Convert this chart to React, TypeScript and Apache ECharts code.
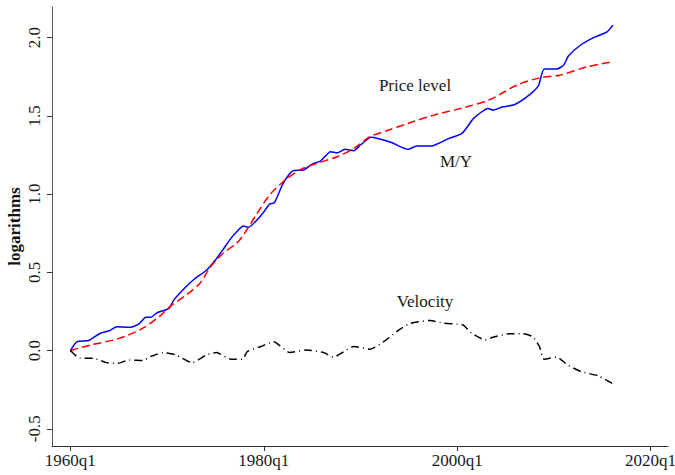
import React, { useEffect, useRef } from "react";
import * as echarts from "echarts";

// Time points (decimal years) and values
const myTime = [1960, 1960.7, 1961.9, 1963.1, 1964.1, 1964.8, 1966.2, 1967.1, 1967.8, 1968.3, 1969, 1970.2, 1970.7, 1971.9, 1972.8, 1974.1, 1975, 1975.8, 1976.6, 1977.2, 1977.9, 1978.4, 1979.9, 1980.6, 1981.1, 1982, 1983, 1984.1, 1985, 1985.9, 1986.9, 1987.6, 1988.4, 1989.3, 1990, 1991.1, 1991.8, 1993.2, 1994.9, 1995.8, 1997.3, 1999.1, 2000.5, 2001.7, 2003.2, 2003.7, 2004.7, 2005.9, 2007.5, 2008.4, 2009, 2010.3, 2011, 2011.5, 2012.7, 2014.1, 2015.5, 2016.1];
const myValues = [0, 0.057, 0.064, 0.111, 0.128, 0.153, 0.149, 0.17, 0.213, 0.213, 0.243, 0.27, 0.324, 0.405, 0.456, 0.515, 0.579, 0.647, 0.717, 0.76, 0.796, 0.788, 0.877, 0.937, 0.945, 1.069, 1.149, 1.154, 1.192, 1.213, 1.271, 1.264, 1.286, 1.277, 1.314, 1.363, 1.356, 1.33, 1.286, 1.307, 1.307, 1.355, 1.388, 1.484, 1.548, 1.537, 1.558, 1.571, 1.636, 1.693, 1.8, 1.8, 1.824, 1.883, 1.95, 2.0, 2.037, 2.08];

const priceTime = [1960, 1962.1, 1964.5, 1965.8, 1967.5, 1969.2, 1970.3, 1972, 1973.4, 1974.5, 1975.8, 1977.2, 1977.9, 1979.2, 1980.6, 1982, 1983.7, 1985.5, 1987.6, 1989.3, 1991, 1992.7, 1995.1, 1997.6, 2001, 2003.4, 2006.2, 2008.5, 2010.6, 2013.4, 2015.9];
const priceValues = [0, 0.036, 0.068, 0.094, 0.143, 0.217, 0.281, 0.356, 0.43, 0.536, 0.622, 0.686, 0.739, 0.866, 0.994, 1.079, 1.154, 1.197, 1.239, 1.292, 1.367, 1.405, 1.456, 1.505, 1.558, 1.605, 1.697, 1.743, 1.76, 1.813, 1.845];

const velTime = [1960, 1961, 1962.4, 1963.7, 1964.9, 1966.1, 1967.5, 1968.3, 1969.6, 1970.9, 1972.6, 1974.1, 1975.1, 1976.6, 1977.8, 1978.3, 1979.7, 1981, 1982.7, 1984.4, 1986.2, 1987.2, 1988.3, 1989.3, 1991, 1992.4, 1994.1, 1995.2, 1997.2, 1998.6, 2000, 2000.6, 2001.5, 2002.9, 2003.7, 2005.4, 2006.8, 2007.8, 2008.5, 2009, 2010.3, 2011.4, 2012.8, 2014.6, 2016.1];
const velValues = [0, -0.049, -0.049, -0.077, -0.081, -0.06, -0.064, -0.038, -0.013, -0.027, -0.077, -0.027, -0.013, -0.055, -0.055, -0.006, 0.026, 0.057, -0.013, 0.004, -0.013, -0.042, -0.006, 0.026, 0.009, 0.057, 0.137, 0.175, 0.192, 0.175, 0.17, 0.164, 0.111, 0.068, 0.085, 0.107, 0.107, 0.089, 0.026, -0.055, -0.042, -0.091, -0.134, -0.162, -0.212];

const xTicks = [1960, 1980, 2000, 2020];
const yTicks = [-0.5, 0, 0.5, 1, 1.5, 2];

const labels = [
  { text: "Price level", x: 415, y: 85 },
  { text: "M/Y", x: 456, y: 161 },
  { text: "Velocity", x: 425, y: 301 },
];

const FONT = "Liberation Serif";

export default function App() {
  const ref = useRef<HTMLDivElement>(null);
  useEffect(() => {
    if (!ref.current) return;
    const chart = echarts.init(ref.current, undefined, { renderer: "svg" });
    const zip = (t: number[], v: number[]) => t.map((x, i) => [x, v[i]]);
    chart.setOption({
      animation: false,
      backgroundColor: "#fff",
      grid: { left: 52, top: 7, right: 7, bottom: 29, containLabel: false, outerBoundsMode: "none" },
      xAxis: {
        type: "value",
        min: 1958.1,
        max: 2021.8,
        axisLine: { show: true, onZero: false, lineStyle: { color: "#333", width: 1 } },
        axisTick: { show: true, customValues: xTicks, length: 5, lineStyle: { color: "#333" } },
        axisLabel: {
          customValues: xTicks,
          formatter: (v: number) => `${v}q1`,
          fontFamily: FONT,
          fontSize: 17,
          color: "#1a1a1a",
          margin: 6,
        },
        splitLine: { show: false },
      },
      yAxis: {
        type: "value",
        min: -0.61,
        max: 2.196,
        name: "logarithms",
        nameLocation: "middle",
        nameGap: 29,
        nameMoveOverlap: false,
        nameTextStyle: { fontFamily: FONT, fontSize: 17, fontWeight: "bold", color: "#111" },
        axisLine: { show: true, onZero: false, lineStyle: { color: "#555", width: 1 } },
        axisTick: { show: true, customValues: yTicks, length: 5, lineStyle: { color: "#333" } },
        axisLabel: {
          customValues: yTicks,
          formatter: (v: number) => v.toFixed(1),
          rotate: 90,
          fontFamily: FONT,
          fontSize: 17,
          color: "#1a1a1a",
          margin: 9,
        },
        splitLine: { show: false },
      },
      series: [
        {
          type: "line",
          name: "M/Y",
          data: zip(myTime, myValues),
          showSymbol: false,
          smooth: 0.2,
          lineStyle: { color: "#0000ff", width: 1.5, type: "solid" },
        },
        {
          type: "line",
          name: "Price level",
          data: zip(priceTime, priceValues),
          showSymbol: false,
          smooth: 0.3,
          lineStyle: { color: "#ff0000", width: 1.5, type: [8, 4] },
        },
        {
          type: "line",
          name: "Velocity",
          data: zip(velTime, velValues),
          showSymbol: false,
          smooth: 0.2,
          lineStyle: { color: "#000", width: 1.5, type: [8, 4, 1, 4] },
        },
      ],
      graphic: labels.map((l) => ({
        type: "text",
        x: l.x,
        y: l.y,
        style: {
          text: l.text,
          fontFamily: FONT,
          fontSize: 17,
          fill: "#1a1a1a",
          textAlign: "center",
          textVerticalAlign: "middle",
        },
      })),
    });
    return () => chart.dispose();
  }, []);
  return <div ref={ref} style={{ width: 675, height: 475, position: "absolute", left: 0, top: 0 }} />;
}
